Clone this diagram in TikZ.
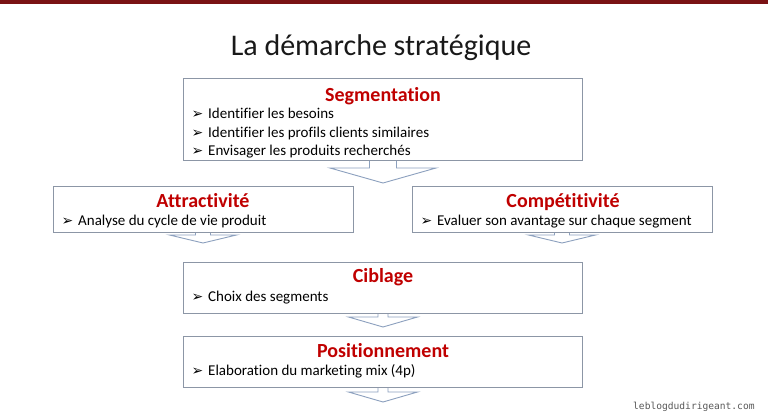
\documentclass[tikz,border=0pt]{standalone}
\usepackage{fontspec}
\setmainfont{Carlito}[Ligatures=NoCommon]
\newfontfamily\dejavu{DejaVu Sans}
\newfontfamily\wmfont{DejaVu Sans Mono}
\usetikzlibrary{calc}
\definecolor{barred}{RGB}{122,18,20}
\definecolor{headred}{RGB}{192,0,0}
\definecolor{boxgray}{RGB}{140,150,166}
\definecolor{arrblue}{RGB}{140,160,190}
\definecolor{titleblack}{RGB}{25,25,25}
\newcommand{\bul}{\makebox[16.5pt][l]{\raisebox{-0.3pt}{\dejavu\fontsize{14}{14}\selectfont ➢}}}
\tikzset{
  stagebox/.style={draw=boxgray, line width=0.9pt, fill=white, inner sep=0pt},
  head/.style={text=headred, font=\bfseries\fontsize{20}{24}\selectfont, anchor=base, inner sep=0pt},
  item/.style={text=black, font=\fontsize{15}{18}\selectfont, anchor=base west, inner sep=0pt},
  blockarr/.style={draw=arrblue, line width=0.9pt, fill=white, line join=miter},
}
\begin{document}
\begin{tikzpicture}[x=1pt,y=-1pt]
\useasboundingbox (0,0) rectangle (768,420);
\fill[white] (0,0) rectangle (768,420);
\fill[barred] (0,0) rectangle (768,4);
\node[text=titleblack, font=\fontsize{30}{36}\selectfont, anchor=base, inner sep=0pt] (title) at (381,56) {La démarche stratégique};

% box placement nodes (positions only)
\coordinate (segc) at (382.5,119);
\coordinate (attrc) at (203,209);
\coordinate (compc) at (562,209);
\coordinate (cibc) at (382.5,287.5);
\coordinate (posc) at (382.5,361.5);

% arrows drawn first (behind boxes)
\newcommand{\blockarrow}[6]{% cx, top, stem hw, wing y, wing hw, tip y
  \draw[blockarr] (#1-#3,#2-10) -- (#1-#3,#4) -- (#1-#5,#4) -- (#1,#6) -- (#1+#5,#4) -- (#1+#3,#4) -- (#1+#3,#2-10) -- cycle;}
\blockarrow{383}{160}{13.5}{168}{53}{183}
\blockarrow{203}{232}{7.5}{235}{33.5}{243}
\blockarrow{562}{232}{7.5}{235}{33.5}{243}
\blockarrow{383}{313}{5}{317}{34.5}{327}
\blockarrow{383}{387}{5}{392}{34.5}{402}

\node[stagebox, minimum width=399pt, minimum height=82pt] (seg) at (segc) {};
\node[stagebox, minimum width=300pt, minimum height=46pt] (attr) at (attrc) {};
\node[stagebox, minimum width=300pt, minimum height=46pt] (comp) at (compc) {};
\node[stagebox, minimum width=399pt, minimum height=51pt] (cib) at (cibc) {};
\node[stagebox, minimum width=399pt, minimum height=51pt] (pos) at (posc) {};

\node[head] (seghead) at (383,101) {Segmentation};
\node[item] (seg1) at (191.5,118) {\bul Identifier les besoins};
\node[item] (seg2) at (191.5,137) {\bul Identifier les profils clients similaires};
\node[item] (seg3) at (191.5,155) {\bul Envisager les produits recherchés};

\node[head] (attrhead) at (203,207) {Attractivité};
\node[item] (attr1) at (61.5,225) {\bul Analyse du cycle de vie produit};

\node[head] (comphead) at (563,207) {Compétitivité};
\node[item] (comp1) at (420.5,225) {\bul Evaluer son avantage sur chaque segment};

\node[head] (cibhead) at (383,282) {Ciblage};
\node[item] (cib1) at (191.5,301) {\bul Choix des segments};

\node[head] (poshead) at (383,357) {Positionnement};
\node[item] (pos1) at (191.5,375) {\bul Elaboration du marketing mix (4p)};

\node[text=black!65, font=\wmfont\fontsize{9.6}{10}\selectfont, anchor=base west, inner sep=0pt] (wm) at (633,409) {leblogdudirigeant.com};
\end{tikzpicture}
\end{document}
